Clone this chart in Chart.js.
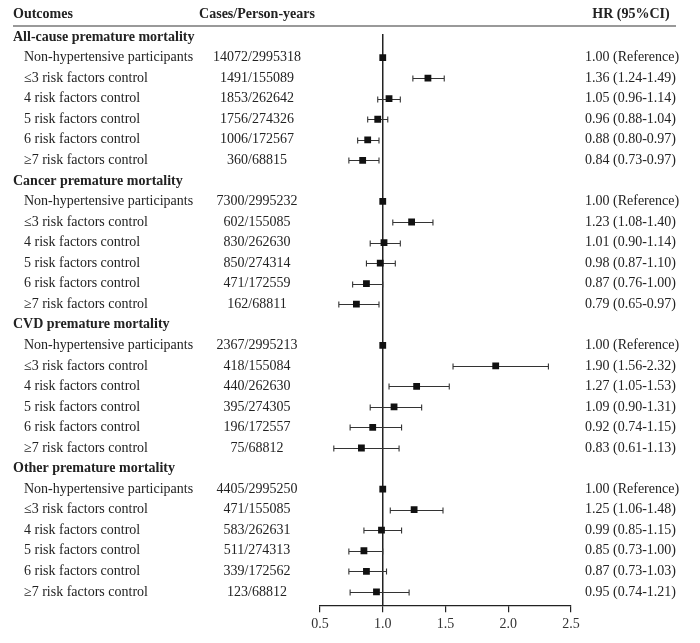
<!DOCTYPE html>
<html>
<head>
<meta charset="utf-8">
<script src="https://cdn.jsdelivr.net/npm/chart.js@4"></script>
<style>
  html, body { margin: 0; padding: 0; background: #fff; }
  #wrap { width: 700px; height: 643px; position: relative; }
</style>
</head>
<body>
<div id="wrap"><canvas id="forest"></canvas></div>
<script>
  // outcome groups and exposure levels (rows)
  const groups = [
    'All-cause premature mortality',
    'Cancer premature mortality',
    'CVD premature mortality',
    'Other premature mortality'
  ];
  const levels = [
    'Non-hypertensive participants',
    '≤3 risk factors control',
    '4 risk factors control',
    '5 risk factors control',
    '6 risk factors control',
    '≥7 risk factors control'
  ];
  const cases = [
    ['14072/2995318', '1491/155089', '1853/262642', '1756/274326', '1006/172567', '360/68815'],
    ['7300/2995232', '602/155085', '830/262630', '850/274314', '471/172559', '162/68811'],
    ['2367/2995213', '418/155084', '440/262630', '395/274305', '196/172557', '75/68812'],
    ['4405/2995250', '471/155085', '583/262631', '511/274313', '339/172562', '123/68812']
  ];
  const hr = [
    [1.00, 1.36, 1.05, 0.96, 0.88, 0.84],
    [1.00, 1.23, 1.01, 0.98, 0.87, 0.79],
    [1.00, 1.90, 1.27, 1.09, 0.92, 0.83],
    [1.00, 1.25, 0.99, 0.85, 0.87, 0.95]
  ];
  const lower = [
    [null, 1.24, 0.96, 0.88, 0.80, 0.73],
    [null, 1.08, 0.90, 0.87, 0.76, 0.65],
    [null, 1.56, 1.05, 0.90, 0.74, 0.61],
    [null, 1.06, 0.85, 0.73, 0.73, 0.74]
  ];
  const upper = [
    [null, 1.49, 1.14, 1.04, 0.97, 0.97],
    [null, 1.40, 1.14, 1.10, 1.00, 0.97],
    [null, 2.32, 1.53, 1.31, 1.15, 1.13],
    [null, 1.48, 1.15, 1.00, 1.03, 1.21]
  ];
  const xTicks = [0.5, 1.0, 1.5, 2.0, 2.5];

  const FONT = "'Liberation Serif', 'Times New Roman', serif";
  const INK = '#222';

  // row index of every estimate (group header takes one row)
  const points = [];
  groups.forEach((g, gi) => {
    levels.forEach((lv, li) => {
      points.push({
        x: hr[gi][li], y: gi * 7 + 1 + li,
        lo: lower[gi][li], hi: upper[gi][li]
      });
    });
  });

  const forestText = {
    id: 'forestText',
    beforeDatasetsDraw(chart) {
      const { ctx, chartArea, scales: { x, y } } = chart;
      ctx.save();
      ctx.strokeStyle = INK;
      ctx.lineWidth = 1.5;
      // reference line at HR = 1
      ctx.beginPath();
      ctx.moveTo(x.getPixelForValue(1), chartArea.top);
      ctx.lineTo(x.getPixelForValue(1), chartArea.bottom);
      ctx.stroke();
      // confidence intervals
      ctx.strokeStyle = '#333';
      ctx.lineWidth = 1.1;
      points.forEach(p => {
        if (p.lo == null) return;
        const py = Math.round(y.getPixelForValue(p.y)) + 0.5;
        const x1 = x.getPixelForValue(p.lo), x2 = x.getPixelForValue(p.hi);
        ctx.beginPath();
        ctx.moveTo(x1, py); ctx.lineTo(x2, py);
        ctx.moveTo(x1, py - 3); ctx.lineTo(x1, py + 3);
        ctx.moveTo(x2, py - 3); ctx.lineTo(x2, py + 3);
        ctx.stroke();
      });
      ctx.restore();
    },
    afterDraw(chart) {
      const { ctx, chartArea, scales: { y } } = chart;
      ctx.save();
      ctx.fillStyle = INK;
      ctx.textBaseline = 'middle';
      // column headers
      const hy = chartArea.top - 20;
      ctx.font = 'bold 14px ' + FONT;
      ctx.textAlign = 'left';
      ctx.fillText('Outcomes', 13, hy);
      ctx.textAlign = 'center';
      ctx.fillText('Cases/Person-years', 257, hy);
      ctx.fillText('HR (95%CI)', 631, hy);
      ctx.strokeStyle = '#777';
      ctx.lineWidth = 1.5;
      ctx.beginPath();
      ctx.moveTo(13, chartArea.top - 8);
      ctx.lineTo(676, chartArea.top - 8);
      ctx.stroke();

      groups.forEach((g, gi) => {
        ctx.font = 'bold 14px ' + FONT;
        ctx.textAlign = 'left';
        ctx.fillText(g, 13, y.getPixelForValue(gi * 7));
        ctx.font = '14px ' + FONT;
        levels.forEach((lv, li) => {
          const py = y.getPixelForValue(gi * 7 + 1 + li);
          ctx.textAlign = 'left';
          ctx.fillText(lv, 24, py);
          ctx.textAlign = 'center';
          ctx.fillText(cases[gi][li], 257, py);
          ctx.textAlign = 'left';
          const lo = lower[gi][li], hi = upper[gi][li];
          const txt = lo == null
            ? hr[gi][li].toFixed(2) + ' (Reference)'
            : hr[gi][li].toFixed(2) + ' (' + lo.toFixed(2) + '-' + hi.toFixed(2) + ')';
          ctx.fillText(txt, 585, py);
        });
      });
      ctx.restore();
    }
  };

  new Chart(document.getElementById('forest'), {
    type: 'scatter',
    data: {
      datasets: [{
        data: points,
        pointStyle: 'rect',
        pointRadius: 4.8,
        pointHoverRadius: 4.8,
        backgroundColor: '#111',
        borderColor: '#111',
        borderWidth: 0
      }]
    },
    options: {
      responsive: true,
      maintainAspectRatio: false,
      animation: false,
      events: [],
      layout: { padding: { left: 320, right: 129, top: 34, bottom: 6 } },
      plugins: { legend: { display: false }, tooltip: { enabled: false } },
      scales: {
        x: {
          type: 'linear',
          min: 0.5,
          max: 2.5,
          afterBuildTicks: axis => { axis.ticks = xTicks.map(v => ({ value: v })); },
          border: { display: true, color: INK, width: 1.2 },
          grid: { drawOnChartArea: false, drawTicks: true, tickLength: 7, color: INK, lineWidth: 1.2 },
          ticks: {
            color: '#333',
            padding: 4,
            font: { family: FONT, size: 14 },
            callback: v => Number(v).toFixed(1)
          }
        },
        y: {
          type: 'linear',
          display: false,
          reverse: true,
          min: -0.15,
          max: 27.65
        }
      }
    },
    plugins: [forestText]
  });
</script>
</body>
</html>
